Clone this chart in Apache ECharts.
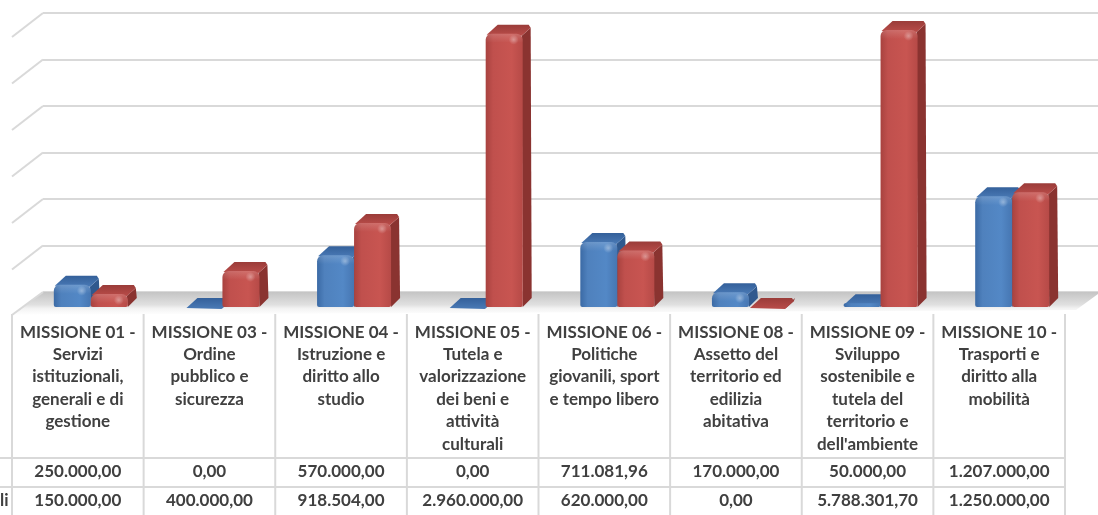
<!DOCTYPE html>
<html>
<head>
<meta charset="utf-8">
<script src="https://cdn.jsdelivr.net/npm/echarts@6/dist/echarts.min.js"></script>
<style>
  html, body { margin: 0; padding: 0; background: #ffffff; }
  #chart { width: 1098px; height: 515px; }
</style>
</head>
<body>
<div id="chart"></div>
<script>
// Categories (data table header cells, already wrapped as in the table)
const categories = [
  'MISSIONE 01 -\nServizi\nistituzionali,\ngenerali e di\ngestione',
  'MISSIONE 03 -\nOrdine\npubblico e\nsicurezza',
  'MISSIONE 04 -\nIstruzione e\ndiritto allo\nstudio',
  'MISSIONE 05 -\nTutela e\nvalorizzazione\ndei beni e\nattività\nculturali',
  'MISSIONE 06 -\nPolitiche\ngiovanili, sport\ne tempo libero',
  'MISSIONE 08 -\nAssetto del\nterritorio ed\nedilizia\nabitativa',
  'MISSIONE 09 -\nSviluppo\nsostenibile e\ntutela del\nterritorio e\ndell\'ambiente',
  'MISSIONE 10 -\nTrasporti e\ndiritto alla\nmobilità'
];

// First table row (blue bars) and second table row (red bars)
const rowBlue = [250000, 0, 570000, 0, 711081.96, 170000, 50000, 1207000];
const rowRed  = [150000, 400000, 918504, 2960000, 620000, 0, 5788301.70, 1250000];

// Value axis ticks
const valueTicks = [0, 500000, 1000000, 1500000, 2000000, 2500000, 3000000];
const axisMin = 0, axisMax = 3000000, axisStep = 500000;

// Tail of the second row's name, the rest lies left of the visible area
const rowNameTail = 'li';

// Italian number format: 1.234.567,89
function fmtIt(v) {
  const parts = v.toFixed(2).split('.');
  const intPart = parts[0].replace(/\B(?=(\d{3})+(?!\d))/g, '.');
  return intPart + ',' + parts[1];
}

const TEXT = '#404040';
const FONT = 'Lato, "Open Sans", sans-serif';
const GRIDLINE = '#d9d9d9';

// 3D bar geometry
const FACE = 37, DX = 9, DY = 9, SHIFT = 13, LIFT = 17, BASE_DROP = 16;

const palettes = {
  blue: {
    front: ['#3b6aa5', '#4f81bd', '#5388c6', '#4676b2'],
    top: ['#34609a', '#4a7ab6'],
    side: '#30598e'
  },
  red: {
    front: ['#a8423f', '#c0504d', '#c85551', '#b64a47'],
    top: ['#9a3c39', '#b94c49'],
    side: '#8a3330'
  }
};

function barRenderer(pal, leftSide) {
  return function (params, api) {
    const i = api.value(0);
    const v = api.value(1);
    const vc = Math.min(Math.max(v, axisMin), axisMax);
    const c = api.coord([i, vc]);
    const c0 = api.coord([i, 0]);
    const base = c0[1] + BASE_DROP;
    const top = Math.min(c[1] + LIFT, base);
    const L = c[0] + SHIFT - (leftSide ? FACE : 0);
    const R = L + FACE;
    const h = base - top;
    const children = [];
    // side face
    children.push({
      type: 'polygon',
      shape: { points: [[R - 1, top + 2], [R + DX - 1, top - DY + 3], [R + DX, base - DY], [R, base]] },
      style: { fill: pal.side }
    });
    // top face
    children.push({
      type: 'polygon',
      shape: { points: [[L + 1, top + 1], [L + DX + 3, top - DY], [R + DX - 3, top - DY], [R + DX - 1, top - DY + 3], [R - 1, top + 2]] },
      style: {
        fill: new echarts.graphic.LinearGradient(0, 0, 0, 1, [
          { offset: 0, color: pal.top[0] }, { offset: 1, color: pal.top[1] }
        ])
      }
    });
    if (h > 0.5) {
      const r = Math.min(6, h / 2);
      children.push({
        type: 'rect',
        shape: { x: L, y: top, width: FACE, height: h, r: [r, r, Math.min(2, h / 2), Math.min(2, h / 2)] },
        style: {
          fill: new echarts.graphic.LinearGradient(0, 0, 1, 0, [
            { offset: 0, color: pal.front[0] },
            { offset: 0.2, color: pal.front[1] },
            { offset: 0.7, color: pal.front[2] },
            { offset: 1, color: pal.front[3] }
          ])
        }
      });
      if (h > 8) {
        children.push({
          type: 'rect',
          shape: { x: L, y: top, width: FACE, height: Math.min(9, h), r: [r, r, 0, 0] },
          style: {
            fill: new echarts.graphic.LinearGradient(0, 0, 0, 1, [
              { offset: 0, color: 'rgba(255,255,255,0.16)' },
              { offset: 1, color: 'rgba(255,255,255,0)' }
            ])
          }
        });
        children.push({
          type: 'circle',
          shape: { cx: R - 9, cy: top + 6, r: 5 },
          style: {
            fill: new echarts.graphic.RadialGradient(0.5, 0.5, 0.5, [
              { offset: 0, color: 'rgba(255,255,255,0.35)' },
              { offset: 1, color: 'rgba(255,255,255,0)' }
            ])
          }
        });
      }
    }
    return { type: 'group', children: children };
  };
}

// Data table borders (one column per category)
function tableRenderer(params, api) {
  const i = api.value(0);
  const band = api.size([1, 0])[0];
  const cx = api.coord([i, 0])[0];
  const x0 = cx - band / 2, x1 = cx + band / 2;
  const ls = { stroke: GRIDLINE, lineWidth: 2 };
  const kids = [
    { type: 'line', shape: { x1: x0, y1: 314, x2: x0, y2: 515 }, style: ls },
    { type: 'line', shape: { x1: i === 0 ? 0 : x0, y1: 458, x2: x1, y2: 458 }, style: ls },
    { type: 'line', shape: { x1: i === 0 ? 0 : x0, y1: 487, x2: x1, y2: 487 }, style: ls }
  ];
  if (i === categories.length - 1) {
    kids.push({ type: 'line', shape: { x1: x1, y1: 314, x2: x1, y2: 515 }, style: ls });
  }
  return { type: 'group', children: kids };
}

// Floor slab and left-wall gridlines
function wallRenderer(params, api) {
  const v = api.value(0);
  const p = api.coord([0, v]);
  if (v === 0) {
    const pr = api.coord([1, 0]);
    return {
      type: 'group',
      children: [
        {
          type: 'polygon',
          shape: { points: [[p[0], p[1]], [pr[0], pr[1]], [pr[0], pr[1] + 2], [pr[0] - 22, p[1] + 18], [p[0] - 31, p[1] + 23]] },
          style: {
            fill: new echarts.graphic.LinearGradient(0, 0, 0, 1, [
              { offset: 0, color: '#c4c4c4' },
              { offset: 0.55, color: '#e0e0e0' },
              { offset: 0.72, color: '#f3f3f3' },
              { offset: 1, color: '#ffffff' }
            ])
          }
        },
        { type: 'line', shape: { x1: p[0], y1: p[1], x2: p[0] - 31, y2: p[1] + 23 }, style: { stroke: GRIDLINE, lineWidth: 2 } }
      ]
    };
  }
  return { type: 'line', shape: { x1: p[0], y1: p[1], x2: p[0] - 31, y2: p[1] + 24 }, style: { stroke: GRIDLINE, lineWidth: 2 } };
}

const labelBase = {
  interval: 0,
  fontFamily: FONT,
  fontWeight: 'bold',
  color: TEXT,
  align: 'center',
  verticalAlign: 'top'
};

const chart = echarts.init(document.getElementById('chart'), null, { renderer: 'canvas' });

chart.setOption({
  backgroundColor: '#ffffff',
  animation: false,
  grid: [
    { left: 12, right: 33, top: 13, bottom: 223 },
    { left: 43, right: 0, top: 13, bottom: 223 }
  ],
  xAxis: [
    {
      type: 'category', gridIndex: 0, data: categories, position: 'bottom',
      axisLine: { show: false, onZero: false }, axisTick: { show: false }, splitLine: { show: false },
      axisLabel: Object.assign({}, labelBase, { margin: 30, fontSize: 17, lineHeight: 22.4 })
    },
    {
      type: 'category', gridIndex: 0, data: rowBlue.map(fmtIt), position: 'bottom',
      axisLine: { show: false, onZero: false }, axisTick: { show: false },
      axisLabel: Object.assign({}, labelBase, { margin: 166, fontSize: 17, lineHeight: 29 })
    },
    {
      type: 'category', gridIndex: 0, data: rowRed.map(fmtIt), position: 'bottom',
      axisLine: { show: false, onZero: false }, axisTick: { show: false },
      axisLabel: Object.assign({}, labelBase, { margin: 196, fontSize: 17, lineHeight: 28 })
    },
    { type: 'value', gridIndex: 1, min: 0, max: 1, show: false }
  ],
  yAxis: [
    {
      type: 'value', gridIndex: 0, min: axisMin, max: axisMax, interval: axisStep,
      axisLabel: { show: false }, axisLine: { show: false }, axisTick: { show: false }, splitLine: { show: false }
    },
    {
      type: 'value', gridIndex: 1, min: axisMin, max: axisMax, interval: axisStep,
      axisLabel: { show: false }, axisLine: { show: false }, axisTick: { show: false },
      splitLine: { show: true, lineStyle: { color: GRIDLINE, width: 2 } }
    }
  ],
  graphic: [
    {
      type: 'text', left: 0, top: 492,
      style: { text: rowNameTail, x: 0, fontFamily: FONT, fontWeight: 'bold', fontSize: 17, fill: TEXT }
    }
  ],
  series: [
    {
      type: 'custom', name: 'wall', xAxisIndex: 3, yAxisIndex: 1, clip: false, silent: true, z: 1,
      data: valueTicks.map(function (t) { return [t]; }),
      encode: { y: 0 },
      renderItem: wallRenderer
    },
    {
      type: 'custom', name: 'table', xAxisIndex: 0, yAxisIndex: 0, clip: false, silent: true, z: 1,
      data: categories.map(function (c, i) { return [i, 0]; }),
      encode: { x: 0, y: 1 },
      renderItem: tableRenderer
    },
    {
      type: 'custom', name: 'riga1', xAxisIndex: 0, yAxisIndex: 0, clip: false, z: 3,
      data: rowBlue.map(function (v, i) { return [i, v]; }),
      encode: { x: 0, y: 1 },
      renderItem: barRenderer(palettes.blue, true)
    },
    {
      type: 'custom', name: 'riga2', xAxisIndex: 0, yAxisIndex: 0, clip: false, z: 3,
      data: rowRed.map(function (v, i) { return [i, v]; }),
      encode: { x: 0, y: 1 },
      renderItem: barRenderer(palettes.red, false)
    }
  ]
});
</script>
</body>
</html>
